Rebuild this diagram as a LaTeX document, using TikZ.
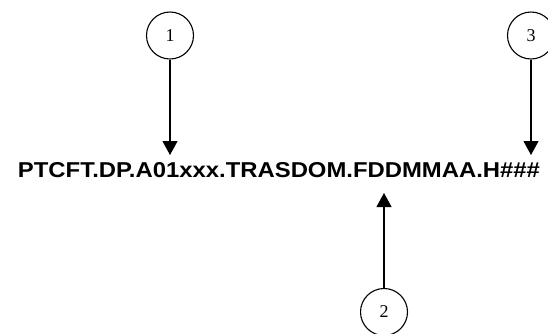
\documentclass[tikz,border=0pt]{standalone}
\usepackage{fontspec}
\setmainfont{Liberation Serif}
\newfontfamily\arialfont[FakeStretch=1.11]{Liberation Sans}
\usetikzlibrary{arrows.meta}
\tikzset{
  numcirc/.style={circle, draw, line width=1.1pt, minimum size=47pt, inner sep=0pt, font=\fontsize{18}{18}\selectfont},
  pointer/.style={line width=1.1pt, -{Triangle[length=14pt,width=15pt]}},
  label/.style={inner sep=0pt, anchor=base, font=\arialfont\bfseries\fontsize{21.5}{22}\selectfont}
}
\begin{document}
\begin{tikzpicture}[x=1pt,y=-1pt]
\useasboundingbox (0,0) rectangle (548,333);
\clip (0,0) rectangle (548,333);
\node[label] (name) at (279,177) {PTCFT.DP.A01xxx.TRASDOM.FDDMMAA.H\#\#\#};
\node[numcirc] (c1) at (170,35.5) {1};
\node[numcirc] (c3) at (531,35.5) {3};
\node[numcirc] (c2) at (384,312) {2};
\coordinate (t1) at (170,155);
\coordinate (t3) at (531,155);
\coordinate (t2) at (384,193);
\draw[pointer] (c1) -- (t1);
\draw[pointer] (c3) -- (t3);
\draw[pointer] (c2) -- (t2);
\end{tikzpicture}
\end{document}
